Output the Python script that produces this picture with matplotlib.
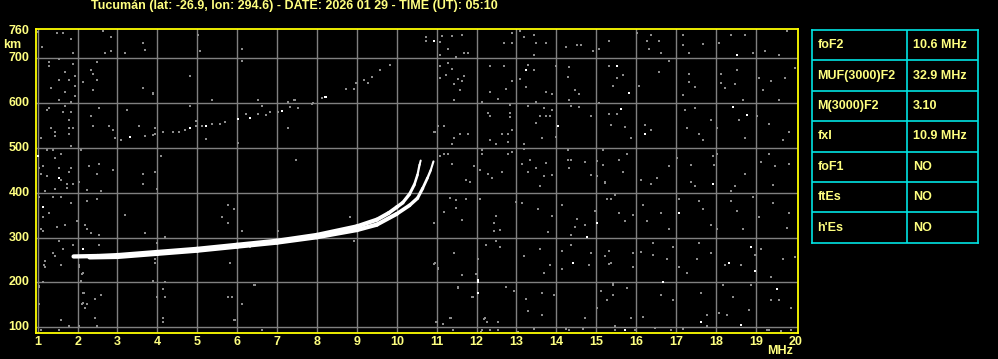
import matplotlib
matplotlib.use("Agg")
import matplotlib.pyplot as plt
from matplotlib.collections import LineCollection
import numpy as np

W, H = 998, 359

TITLE = "Tucumán (lat: -26.9, lon: 294.6) - DATE: 2026 01 29 - TIME (UT): 05:10"

FREQ_TICKS = list(range(1, 21))
HEIGHT_TICKS = [100, 200, 300, 400, 500, 600, 700, 760]

# ordinary trace (MHz, km)
O_FREQ = [1.9, 2.5, 3, 4, 5, 6, 7, 8, 9, 9.5, 9.8, 10.0, 10.15, 10.32, 10.44, 10.52, 10.57, 10.6]
O_HEIGHT = [258, 259, 261, 268, 275, 284, 293, 306, 325, 340, 355, 368, 378, 397, 418, 440, 462, 472]
# extraordinary trace
X_FREQ = [2.3, 3, 4, 5, 6, 7, 8, 9, 9.5, 10.0, 10.32, 10.52, 10.65, 10.77, 10.85, 10.92]
X_HEIGHT = [256, 257, 264, 271, 280, 289, 301, 317, 329, 353, 372, 388, 410, 433, 450, 470]

# second hop echoes (faint)
HOP2_GRAY = [(3.9, 530), (4.13, 535), (4.38, 535), (4.53, 535), (4.68, 540), (4.98, 549),
             (5.13, 549), (5.38, 553), (5.57, 553), (5.69, 558), (6.23, 575), (6.53, 575),
             (6.73, 574), (6.83, 580), (7.03, 581), (7.33, 592), (7.44, 607), (7.9, 600),
             (8.13, 611), (8.73, 632), (8.93, 632), (8.98, 644), (9.18, 651), (9.28, 646),
             (9.38, 658), (9.58, 673), (9.83, 685)]
HOP2_WHITE = [(3.32, 525), (4.83, 544), (5.23, 549), (6.03, 565), (6.33, 566), (7.13, 583),
              (8.19, 613), (8.23, 614)]

NOISE_GRAY = [
    (1.02, 758), (1.48, 756), (1.63, 756), (1.84, 743), (2.63, 761), (2.83, 748), (3.65, 734),
    (3.69, 718), (3.19, 712), (2.83, 716), (2.69, 712), (1.88, 712), (1.10, 725), (5.03, 752),
    (5.08, 716), (1.28, 691), (1.28, 682), (1.53, 699), (1.88, 688), (1.68, 669), (1.93, 660),
    (1.53, 651), (1.78, 651), (1.93, 638), (1.33, 633), (1.68, 624), (1.93, 615), (1.53, 606),
    (1.83, 602), (2.48, 691), (2.33, 673), (2.38, 666), (2.48, 651), (2.13, 647), (2.38, 629),
    (3.63, 633), (3.88, 620), (4.83, 660), (5.38, 606), (1.28, 589), (1.23, 584), (1.68, 593),
    (1.63, 580), (1.83, 580), (1.78, 562), (1.88, 544), (1.33, 544), (1.43, 535), (1.43, 526),
    (1.78, 544), (1.78, 531), (1.08, 522), (1.83, 504), (2.33, 571), (2.53, 589), (2.38, 549),
    (2.78, 549), (2.88, 540), (2.93, 522), (3.08, 517), (3.23, 584), (3.53, 549), (3.68, 526),
    (3.93, 544), (3.93, 531), (4.83, 593), (1.23, 495), (1.38, 495), (1.58, 486), (1.43, 477),
    (2.08, 495), (1.13, 459), (1.03, 455), (1.08, 442), (1.23, 437), (1.53, 455), (1.83, 455),
    (1.78, 446), (1.58, 428), (1.88, 419), (1.73, 419), (2.03, 424), (1.73, 410), (1.43, 409),
    (1.18, 403), (2.28, 459), (2.53, 464), (2.48, 442), (2.88, 451), (2.23, 406), (2.58, 404),
    (3.63, 442), (3.63, 419), (3.93, 446), (4.08, 482), (3.98, 409), (1.03, 391), (1.38, 391),
    (1.58, 391), (1.83, 378), (1.28, 356), (1.13, 347), (1.08, 320), (1.13, 315), (1.48, 324),
    (1.68, 329), (1.98, 338), (2.23, 382), (2.48, 387), (2.18, 329), (2.23, 320), (2.33, 311),
    (2.53, 306), (3.18, 351), (3.68, 311), (4.18, 302), (5.63, 347), (5.78, 373), (5.78, 333),
    (1.53, 293), (1.63, 275), (1.88, 284), (1.38, 266), (1.43, 259), (1.18, 247), (1.18, 235),
    (1.58, 240), (2.03, 235), (2.13, 222), (2.08, 204), (2.53, 284), (3.93, 253), (3.93, 244),
    (3.98, 289), (1.03, 191), (2.13, 177), (2.58, 173), (2.43, 164), (2.13, 155), (2.23, 151),
    (1.03, 151), (1.58, 116), (2.43, 121), (1.08, 94), (1.53, 94), (1.78, 103), (2.03, 103),
    (2.48, 103), (4.18, 200), (4.13, 186), (4.18, 168), (3.98, 168), (4.13, 121), (4.13, 112),
    (3.88, 204), (5.78, 168), (1.17, 239), (1.58, 240), (2.04, 239), (2.10, 220), (1.04, 192),
    (1.13, 200), (2.16, 177), (2.10, 153), (2.19, 144), (5.83, 244), (5.88, 168), (6.13, 153),
    (5.94, 117), (6.44, 194), (6.63, 95), (6.13, 721), (6.13, 693), (10.73, 739), (6.53, 607),
    (6.63, 594), (7.28, 602), (7.43, 607), (7.53, 589), (7.88, 598), (7.28, 545), (6.03, 510),
    (7.48, 474), (5.93, 364), (6.13, 315), (7.03, 315), (8.83, 347), (8.93, 293), (10.58, 464),
    (6.33, 280), (6.43, 194), (5.93, 116), (6.63, 94), (4.83, 661), (3.88, 622), (5.23, 519),
    (4.98, 560), (3.94, 545), (10.95, 536), (11.19, 549), (10.94, 333), (11.19, 357),
    (10.95, 243), (11.04, 231), (11.64, 217), (11.54, 187), (11.9, 168), (11.99, 220),
    (11.01, 112), (11.16, 107), (11.35, 121), (11.4, 94), (12.2, 121), (12.25, 112), (12.1, 90),
    (10.73, 747), (11.08, 737), (11.13, 750), (11.08, 707), (11.28, 721), (11.38, 750),
    (11.63, 752), (11.48, 704), (11.68, 712), (11.78, 712), (12.68, 734), (12.88, 756),
    (12.88, 734), (13.08, 761), (13.18, 747), (13.43, 752), (13.48, 734), (13.73, 734),
    (13.43, 707), (14.23, 725), (14.53, 730), (14.63, 730), (14.93, 716), (15.08, 721),
    (15.33, 739), (11.08, 682), (11.28, 690), (11.38, 676), (11.08, 655), (11.23, 663),
    (11.53, 654), (11.63, 650), (11.43, 642), (11.58, 629), (11.68, 660), (11.43, 606),
    (12.33, 682), (12.68, 682), (12.73, 632), (12.53, 609), (12.33, 624), (12.13, 602),
    (12.88, 650), (13.08, 654), (13.43, 673), (13.28, 685), (13.23, 636), (13.73, 624),
    (13.88, 620), (13.48, 602), (13.98, 682), (14.33, 681), (14.28, 658), (14.48, 629),
    (14.58, 620), (14.33, 606), (15.33, 682), (15.53, 655), (15.43, 638), (15.08, 600),
    (12.28, 577), (12.33, 572), (12.83, 595), (12.83, 577), (12.83, 568), (12.88, 541),
    (12.78, 532), (12.63, 531), (12.33, 517), (12.48, 508), (12.78, 514), (11.78, 532),
    (11.58, 531), (11.43, 522), (11.38, 508), (11.18, 549), (11.03, 549), (10.93, 535),
    (13.28, 593), (13.48, 556), (13.58, 571), (13.73, 571), (13.83, 572), (13.68, 589),
    (13.88, 584), (13.98, 525), (13.63, 522), (13.18, 508), (14.38, 593), (14.58, 592),
    (14.88, 571), (15.33, 575), (15.38, 552), (11.08, 482), (11.18, 486), (11.28, 486),
    (11.38, 464), (11.93, 459), (11.73, 428), (11.83, 424), (12.13, 495), (12.13, 486),
    (12.08, 451), (12.28, 442), (12.38, 433), (12.63, 446), (12.78, 486), (12.88, 491),
    (13.18, 497), (13.33, 473), (13.13, 464), (13.28, 446), (13.48, 455), (13.73, 467),
    (13.68, 437), (13.88, 439), (13.58, 416), (14.28, 495), (14.28, 473), (14.38, 473),
    (14.33, 455), (14.73, 468), (14.88, 440), (15.03, 471), (15.03, 437), (15.23, 424),
    (15.18, 462), (11.33, 388), (11.48, 384), (11.48, 366), (11.73, 387), (11.63, 339),
    (11.18, 357), (12.08, 387), (12.48, 348), (12.43, 332), (12.43, 314), (12.58, 317),
    (12.98, 379), (13.13, 378), (13.53, 364), (13.88, 348), (13.78, 312), (14.13, 373),
    (14.53, 342), (14.48, 324), (14.73, 329), (14.98, 360), (14.38, 305), (15.38, 387),
    (11.43, 266), (12.03, 253), (12.23, 284), (12.58, 280), (12.48, 292), (13.18, 259),
    (13.58, 275), (13.83, 238), (13.68, 222), (14.13, 271), (14.13, 231), (14.38, 283),
    (14.83, 238), (14.88, 266), (15.23, 260), (15.33, 242), (10.93, 241), (11.03, 232),
    (11.53, 189), (11.88, 168), (12.73, 189), (12.93, 180), (13.23, 164), (13.28, 136),
    (13.63, 177), (13.93, 173), (13.63, 128), (12.53, 112), (12.18, 118), (11.33, 121),
    (10.98, 112), (15.13, 182), (15.43, 173), (15.43, 198), (15.28, 160), (15.03, 143),
    (14.73, 121), (12.13, 93), (12.33, 93), (12.53, 93), (13.03, 90), (13.43, 97), (14.23, 97),
    (14.33, 93), (14.68, 97), (15.48, 102), (16.03, 756), (16.38, 752), (16.28, 739),
    (16.58, 739), (16.63, 712), (16.33, 721), (17.18, 752), (17.18, 730), (17.33, 712),
    (17.68, 733), (18.08, 734), (18.38, 752), (18.73, 752), (18.93, 712), (19.23, 716),
    (19.58, 707), (19.78, 761), (15.68, 663), (16.08, 638), (16.58, 669), (16.83, 694),
    (17.33, 664), (17.33, 648), (17.48, 636), (17.18, 618), (18.13, 664), (18.13, 646),
    (18.23, 633), (18.53, 673), (18.48, 642), (18.68, 606), (19.08, 655), (19.18, 629),
    (19.38, 650), (19.58, 606), (19.73, 655), (19.98, 678), (15.53, 575), (15.38, 552),
    (15.73, 547), (16.23, 552), (16.38, 540), (15.88, 522), (17.23, 584), (17.48, 589),
    (17.28, 544), (17.58, 531), (17.68, 517), (17.88, 562), (18.03, 544), (18.58, 562),
    (18.73, 522), (19.03, 571), (19.33, 553), (19.68, 517), (19.83, 535), (15.18, 495),
    (15.18, 461), (15.23, 421), (15.58, 473), (15.78, 486), (15.68, 446), (16.13, 428),
    (16.38, 419), (16.53, 433), (16.83, 459), (17.03, 477), (17.38, 462), (17.38, 424),
    (17.48, 415), (17.93, 482), (17.95, 462), (18.03, 486), (18.48, 416), (18.73, 442),
    (18.38, 404), (19.33, 486), (19.48, 459), (19.43, 418), (19.83, 464), (19.13, 468),
    (15.28, 387), (15.48, 395), (15.58, 355), (15.73, 338), (15.93, 351), (16.18, 373),
    (16.28, 338), (16.63, 355), (16.83, 320), (17.08, 387), (17.58, 382), (17.68, 364),
    (17.88, 329), (18.03, 320), (18.38, 382), (18.53, 360), (18.68, 320), (18.93, 391),
    (19.08, 347), (19.43, 378), (19.78, 321), (19.83, 355), (15.33, 271), (15.38, 243),
    (15.93, 265), (15.93, 235), (16.13, 269), (16.43, 289), (16.43, 262), (16.78, 253),
    (16.93, 280), (17.08, 235), (17.28, 222), (17.53, 253), (17.58, 289), (17.88, 266),
    (18.23, 240), (18.63, 240), (18.98, 262), (19.13, 275), (19.38, 213), (19.68, 253),
    (19.98, 257), (15.43, 195), (15.43, 173), (15.28, 160), (15.78, 188), (16.63, 173),
    (16.93, 160), (17.63, 176), (17.78, 128), (18.18, 195), (18.43, 168), (18.88, 195),
    (19.38, 162), (19.58, 160), (19.88, 143), (18.83, 139), (18.28, 128), (18.08, 131),
    (16.18, 124), (15.88, 121), (15.48, 93), (15.98, 93), (16.48, 99), (16.88, 93), (17.18, 97),
    (17.78, 102), (19.28, 93), (19.33, 93), (19.63, 91), (19.88, 93),
]
NOISE_WHITE = [
    (1.53, 433), (1.13, 369), (2.13, 275), (1.02, 483), (10.93, 739), (13.23, 673), (15.53, 682),
    (14.03, 549), (15.03, 333), (14.78, 302), (14.43, 244), (12.03, 200), (12.03, 177),
    (12.04, 205), (15.83, 623), (15.63, 587), (16.23, 531), (17.08, 355), (17.93, 419),
    (18.53, 707), (18.43, 592), (18.78, 574), (18.33, 243), (18.88, 280), (18.98, 226),
    (16.68, 201), (17.63, 112), (19.53, 185), (18.63, 106), (15.73, 93),
]

TABLE_NAMES = ["foF2", "MUF(3000)F2", "M(3000)F2", "fxI", "foF1", "ftEs", "h'Es"]
TABLE_VALUES = ["10.6 MHz", "32.9 MHz", "3.10", "10.9 MHz", "NO", "NO", "NO"]

YELLOW = "#FFFF00"
TEXT_YELLOW = "#FFFF80"
CYAN = "#00E4E4"
GRID = "#808080"
NOISE = "#8C8C8C"
FONT = "Liberation Sans"


def trace(ax, freqs, heights):
    """Echo trace: thick band at the bottom, thinning towards the cusp."""
    pts = np.column_stack([freqs, heights])
    segs = np.stack([pts[:-1], pts[1:]], axis=1)
    mid_h = (pts[:-1, 1] + pts[1:, 1]) / 2
    widths = np.clip(3.1 - (mid_h - 330) / 140 * 1.7, 1.4, 3.1)
    lc = LineCollection(segs, linewidths=widths, colors="white", capstyle="round", zorder=4)
    ax.add_collection(lc)


fig = plt.figure(figsize=(W / 100, H / 100), dpi=100, facecolor="black")

# main ionogram axes (pixel box 35.7..797.7 x 29.3..333)
ax = fig.add_axes([35.7 / W, 1 - 333 / H, (797.7 - 35.7) / W, (333 - 29.3) / H])
ax.set_facecolor("black")
ax.set_xlim(0.95, 20.05)
ax.set_ylim(87.3, 764.7)

for f in FREQ_TICKS[:-1]:
    ax.axvline(f, color=GRID, lw=1.0, zorder=1)
for h in HEIGHT_TICKS[:-1]:
    ax.axhline(h, color=GRID, lw=1.0, zorder=1)

ng = np.array(NOISE_GRAY)
nw = np.array(NOISE_WHITE)
hg = np.array(HOP2_GRAY)
hw = np.array(HOP2_WHITE)
ax.scatter(ng[:, 0], ng[:, 1], s=4.0, marker="s", color=NOISE, linewidths=0, zorder=2)
ax.scatter(hg[:, 0], hg[:, 1], s=4.0, marker="s", color=NOISE, linewidths=0, zorder=2)
ax.scatter(nw[:, 0], nw[:, 1], s=4.0, marker="s", color="white", linewidths=0, zorder=3)
ax.scatter(hw[:, 0], hw[:, 1], s=4.0, marker="s", color="white", linewidths=0, zorder=3)

trace(ax, X_FREQ, X_HEIGHT)
trace(ax, O_FREQ, O_HEIGHT)

for side in ["left", "right", "top", "bottom"]:
    ax.spines[side].set_color(YELLOW)
    ax.spines[side].set_linewidth(1.3)
ax.set_xticks([])
ax.set_yticks([])

lab = dict(color=TEXT_YELLOW, fontsize=9, fontweight="bold", family=FONT)
for f in FREQ_TICKS:
    ax.text(f, 80, str(f), ha="center", va="top", clip_on=False, **lab)
for h in HEIGHT_TICKS:
    ax.text(0.8, h, str(h), ha="right", va="center", clip_on=False, **lab)
fig.text(21 / W, 1 - 45 / H, "km", ha="right", va="center", **lab)
fig.text(780 / W, 1 - 351 / H, "MHz", ha="center", va="center", **lab)

fig.text(91 / W, 1 - 6.5 / H, TITLE, ha="left", va="center", **lab)

# parameter table
tx0, tx1, ty0, ty1 = 812.3, 977.7, 30, 242.7
tab = fig.add_axes([tx0 / W, 1 - ty1 / H, (tx1 - tx0) / W, (ty1 - ty0) / H])
tab.set_facecolor("black")
tab.set_xlim(0, 1)
tab.set_ylim(len(TABLE_NAMES), 0)
tab.set_xticks([])
tab.set_yticks([])
for side in tab.spines.values():
    side.set_color(CYAN)
    side.set_linewidth(1.2)
for i in range(1, len(TABLE_NAMES)):
    tab.axhline(i, color=CYAN, lw=1.2)
div = (907.3 - tx0) / (tx1 - tx0)
tab.axvline(div, color=CYAN, lw=1.2)
for i, (name, val) in enumerate(zip(TABLE_NAMES, TABLE_VALUES)):
    tab.text(0.03, i + 0.5, name, ha="left", va="center", **lab)
    tab.text(div + 0.035, i + 0.5, val, ha="left", va="center", **lab)

fig.savefig("out.png", dpi=100, facecolor="black")
